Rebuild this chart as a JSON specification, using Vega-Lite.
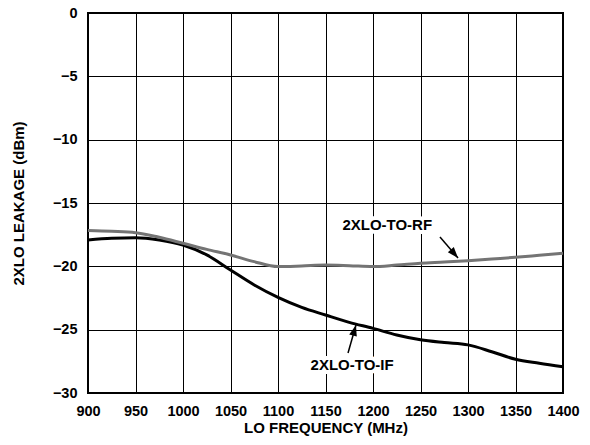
{
  "$schema": "https://vega.github.io/schema/vega-lite/v6.json",
  "width": 475,
  "height": 380,
  "autosize": {"type": "none"},
  "padding": {"left": 88, "top": 13, "right": 27, "bottom": 52},
  "background": "white",
  "config": {
    "font": "Liberation Sans",
    "view": {"stroke": "black", "strokeWidth": 2},
    "axis": {
      "grid": true,
      "gridColor": "black",
      "gridOpacity": 1,
      "gridWidth": 1,
      "domain": false,
      "ticks": false,
      "labelFont": "Liberation Sans",
      "labelFontWeight": "bold",
      "labelFontSize": 14.5,
      "labelColor": "black",
      "labelFlush": false,
      "labelOverlap": false,
      "titleFont": "Liberation Sans",
      "titleFontWeight": "bold",
      "titleFontSize": 15,
      "titleColor": "black"
    }
  },
  "datasets": {
    "curves": [
      {"f": 900, "v": -17.92, "s": "IF"}, {"f": 925, "v": -17.79, "s": "IF"}, {"f": 950, "v": -17.74, "s": "IF"},
      {"f": 975, "v": -17.92, "s": "IF"}, {"f": 1000, "v": -18.32, "s": "IF"}, {"f": 1025, "v": -19.1, "s": "IF"},
      {"f": 1050, "v": -20.29, "s": "IF"}, {"f": 1075, "v": -21.47, "s": "IF"}, {"f": 1100, "v": -22.45, "s": "IF"},
      {"f": 1125, "v": -23.24, "s": "IF"}, {"f": 1150, "v": -23.84, "s": "IF"}, {"f": 1175, "v": -24.42, "s": "IF"},
      {"f": 1200, "v": -24.9, "s": "IF"}, {"f": 1225, "v": -25.42, "s": "IF"}, {"f": 1250, "v": -25.8, "s": "IF"},
      {"f": 1275, "v": -26.02, "s": "IF"}, {"f": 1300, "v": -26.2, "s": "IF"}, {"f": 1325, "v": -26.74, "s": "IF"},
      {"f": 1350, "v": -27.34, "s": "IF"}, {"f": 1375, "v": -27.65, "s": "IF"}, {"f": 1400, "v": -27.92, "s": "IF"},
      {"f": 900, "v": -17.18, "s": "RF"}, {"f": 925, "v": -17.24, "s": "RF"}, {"f": 950, "v": -17.34, "s": "RF"},
      {"f": 975, "v": -17.71, "s": "RF"}, {"f": 1000, "v": -18.18, "s": "RF"}, {"f": 1025, "v": -18.66, "s": "RF"},
      {"f": 1050, "v": -19.1, "s": "RF"}, {"f": 1075, "v": -19.63, "s": "RF"}, {"f": 1100, "v": -20.02, "s": "RF"},
      {"f": 1125, "v": -19.97, "s": "RF"}, {"f": 1150, "v": -19.9, "s": "RF"}, {"f": 1175, "v": -19.95, "s": "RF"},
      {"f": 1200, "v": -20.02, "s": "RF"}, {"f": 1225, "v": -19.9, "s": "RF"}, {"f": 1250, "v": -19.76, "s": "RF"},
      {"f": 1275, "v": -19.66, "s": "RF"}, {"f": 1300, "v": -19.55, "s": "RF"}, {"f": 1325, "v": -19.42, "s": "RF"},
      {"f": 1350, "v": -19.29, "s": "RF"}, {"f": 1375, "v": -19.13, "s": "RF"}, {"f": 1400, "v": -18.97, "s": "RF"}
    ],
    "labels": [
      {"f": 1215, "v": -16.73, "label": "2XLO-TO-RF"},
      {"f": 1178, "v": -27.8, "label": "2XLO-TO-IF"}
    ],
    "arrows": [
      {"name": "RF", "f": 1270.5, "v": -17.68, "f2": 1289.5, "v2": -19.34},
      {"name": "IF", "f": 1173.7, "v": -26.84, "f2": 1182.1, "v2": -24.63}
    ]
  },
  "layer": [
    {
      "data": {"name": "curves"},
      "mark": {"type": "line", "interpolate": "monotone", "strokeWidth": 3},
      "encoding": {
        "x": {
          "field": "f", "type": "quantitative",
          "scale": {"domain": [900, 1400], "nice": false, "zero": false},
          "axis": {"values": [900, 950, 1000, 1050, 1100, 1150, 1200, 1250, 1300, 1350, 1400], "format": "d", "title": "LO FREQUENCY (MHz)", "labelPadding": 11, "titlePadding": 3}
        },
        "y": {
          "field": "v", "type": "quantitative",
          "scale": {"domain": [-30, 0], "nice": false, "zero": false},
          "axis": {"values": [-30, -25, -20, -15, -10, -5, 0], "format": "d", "title": "2XLO LEAKAGE (dBm)", "labelPadding": 11, "titlePadding": 26}
        },
        "color": {
          "field": "s", "type": "nominal",
          "scale": {"domain": ["RF", "IF"], "range": ["#747474", "#000000"]},
          "legend": null
        },
        "order": {"field": "s"}
      }
    },
    {
      "data": {"name": "labels"},
      "mark": {"type": "text", "font": "Liberation Sans", "fontWeight": "bold", "fontSize": 15, "color": "white", "stroke": "white", "strokeWidth": 8, "strokeJoin": "round", "align": "center", "baseline": "middle"},
      "encoding": {
        "x": {"field": "f", "type": "quantitative"},
        "y": {"field": "v", "type": "quantitative"},
        "text": {"field": "label"}
      }
    },
    {
      "data": {"name": "labels"},
      "mark": {"type": "text", "font": "Liberation Sans", "fontWeight": "bold", "fontSize": 15, "color": "black", "align": "center", "baseline": "middle"},
      "encoding": {
        "x": {"field": "f", "type": "quantitative"},
        "y": {"field": "v", "type": "quantitative"},
        "text": {"field": "label"}
      }
    },
    {
      "data": {"name": "arrows"},
      "mark": {"type": "rule", "color": "black", "strokeWidth": 1.5},
      "encoding": {
        "x": {"field": "f", "type": "quantitative"},
        "y": {"field": "v", "type": "quantitative"},
        "x2": {"field": "f2"},
        "y2": {"field": "v2"}
      }
    },
    {
      "data": {"name": "arrows"},
      "transform": [{"filter": "datum.name === 'RF'"}],
      "mark": {"type": "point", "shape": "M0,0L0.36,1L-0.36,1Z", "filled": true, "color": "black", "opacity": 1, "size": 480, "angle": 139},
      "encoding": {
        "x": {"field": "f2", "type": "quantitative"},
        "y": {"field": "v2", "type": "quantitative"}
      }
    },
    {
      "data": {"name": "arrows"},
      "transform": [{"filter": "datum.name === 'IF'"}],
      "mark": {"type": "point", "shape": "M0,0L0.36,1L-0.36,1Z", "filled": true, "color": "black", "opacity": 1, "size": 480, "angle": 16},
      "encoding": {
        "x": {"field": "f2", "type": "quantitative"},
        "y": {"field": "v2", "type": "quantitative"}
      }
    }
  ]
}
